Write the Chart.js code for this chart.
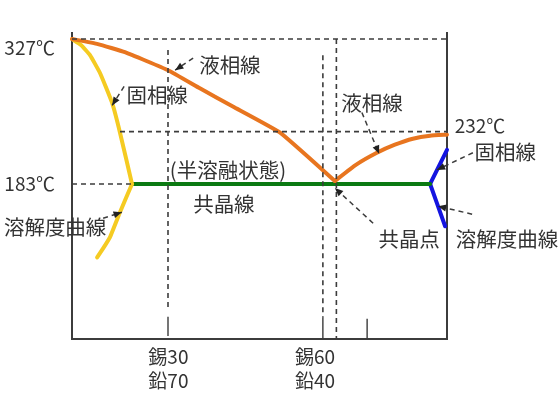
<!DOCTYPE html>
<html>
<head>
<meta charset="utf-8">
<script src="https://cdn.jsdelivr.net/npm/chart.js@4"></script>
<style>
  html, body { margin: 0; background: #fff; }
  canvas { display: block; }
</style>
</head>
<body>
<canvas id="chart" width="560" height="420"></canvas>
<script>
// composition axis runs 0-100 across the plot, temperature is in deg C
const liquidusLeftX = [0, 6.9, 14.1, 25.6, 34.1, 42.9, 55.5, 70.1];
const liquidusLeftY = [327, 322, 314, 296, 278, 260, 234, 186];
const liquidusRightX = [70.1, 75.7, 81.3, 86.1, 90.9, 95.5, 100];
const liquidusRightY = [186, 202, 214, 222, 228, 231, 232];
const solidusLeftX = [0, 2.4, 4.8, 7.5, 10.7, 12.8, 16];
const solidusLeftY = [327, 321, 311, 293, 263.5, 234, 183];
const solvusLeftX = [16, 12.8, 10.1, 8.3, 6.7];
const solvusLeftY = [183, 155, 130, 119, 110];
const eutecticX = [16, 95.5];
const eutecticY = [183, 183];
const solidusRightX = [100, 95.5];
const solidusRightY = [217, 183];
const solvusRightX = [95.5, 99.5];
const solvusRightY = [183, 141];

const xTickValues = [25.7, 64.8];
const xTickLabels = [['錫30', '鉛70'], ['錫60', '鉛40']];
const yTickValues = [318, 183];
const yTickLabels = ['327℃', '183℃'];

const FONT = '"Noto Sans CJK JP", sans-serif';
const LINE = '#3c3c3c';

const zip = (xs, ys) => xs.map((x, i) => ({ x: x, y: ys[i] }));

function curve(xs, ys, color, width) {
    return { data: zip(xs, ys), borderColor: color, borderWidth: width, tension: 0.12, pointRadius: 0, showLine: true, clip: false, borderCapStyle: 'round' };
}

function guide(xs, ys, dashed) {
    return { data: zip(xs, ys), borderColor: LINE, borderWidth: dashed ? 1.6 : 1.4, borderDash: dashed ? [5, 4] : [], pointRadius: 0, showLine: true, clip: false };
}

// text and leader arrows placed in axis units
const notes = [
    ['液相線', 42.1, 301],
    ['固相線', 22.7, 271],
    ['液相線', 80, 263],
    ['232℃', 108.8, 241],
    ['固相線', 115.5, 215],
    ['(半溶融状態)', 41.6, 197],
    ['共晶線', 40.5, 163],
    ['溶解度曲線', -4.5, 140],
    ['溶解度曲線', 116, 128],
    ['共晶点', 89.9, 128]
];

const arrows = [
    [32.3, 308, 27.5, 296],
    [13.9, 280, 10.7, 261],
    [8.3, 149, 13.3, 155],
    [77.3, 254, 81.9, 213],
    [106.9, 214, 97.3, 197],
    [80.3, 144, 70.1, 179],
    [106.7, 153, 97.6, 161]
];

const notesPlugin = {
    id: 'notes',
    afterDatasetsDraw(chart) {
        const c = chart.ctx, sx = chart.scales.x, sy = chart.scales.y;
        c.save();
        c.fillStyle = '#333';
        c.textAlign = 'center';
        c.textBaseline = 'middle';
        notes.forEach(n => {
            c.font = (n[0].includes('℃') ? '19px ' : '20.5px ') + FONT;
            c.fillText(n[0], sx.getPixelForValue(n[1]), sy.getPixelForValue(n[2]));
        });

        arrows.forEach(a => {
            const x1 = sx.getPixelForValue(a[0]), y1 = sy.getPixelForValue(a[1]);
            const x2 = sx.getPixelForValue(a[2]), y2 = sy.getPixelForValue(a[3]);
            const ang = Math.atan2(y2 - y1, x2 - x1);
            c.strokeStyle = LINE;
            c.fillStyle = '#222';
            c.lineWidth = 1.5;
            c.setLineDash([5, 4]);
            c.beginPath();
            c.moveTo(x1, y1);
            c.lineTo(x2, y2);
            c.stroke();
            c.setLineDash([]);
            c.beginPath();
            c.moveTo(x2, y2);
            c.lineTo(x2 - 9 * Math.cos(ang - 0.4), y2 - 9 * Math.sin(ang - 0.4));
            c.lineTo(x2 - 9 * Math.cos(ang + 0.4), y2 - 9 * Math.sin(ang + 0.4));
            c.closePath();
            c.fill();
        });
        c.restore();
    }
};

new Chart(document.getElementById('chart'), {
    type: 'scatter',
    data: {
        datasets: [
            guide([0, 100], [327, 327], true),
            guide([12.8, 100], [235, 235], true),
            guide([0, 16], [183, 183], true),
            guide([25.6, 25.6], [316, 60], true),
            guide([66.9, 66.9], [311, 50], true),
            guide([70.5, 70.5], [327, 29], true),
            guide([25.6, 25.6], [51, 32], false),
            guide([66.9, 66.9], [50, 29], false),
            guide([78.7, 78.7], [49, 29], false),
            curve(liquidusLeftX, liquidusLeftY, '#e8751f', 4),
            curve(liquidusRightX, liquidusRightY, '#e8751f', 4),
            curve(solidusLeftX, solidusLeftY, '#f5cb22', 4),
            curve(solvusLeftX, solvusLeftY, '#f5cb22', 4),
            curve(eutecticX, eutecticY, '#0b7a12', 4),
            curve(solidusRightX, solidusRightY, '#1414e0', 4),
            curve(solvusRightX, solvusRightY, '#1414e0', 4)
        ]
    },
    options: {
        responsive: false,
        animation: false,
        layout: { padding: { top: 33 } },
        plugins: { legend: { display: false }, tooltip: { enabled: false } },
        scales: {
            x: {
                min: 0,
                max: 100,
                grid: { display: false },
                border: { color: LINE, width: 2 },
                afterBuildTicks: s => { s.ticks = xTickValues.map(v => ({ value: v })); },
                afterFit: s => { s.height = 81; },
                ticks: {
                    autoSkip: false,
                    maxRotation: 0,
                    padding: -2,
                    color: '#333',
                    font: { family: FONT, size: 19, lineHeight: 1.26 },
                    callback: v => xTickLabels[xTickValues.indexOf(v)]
                }
            },
            y: {
                min: 29,
                max: 333,
                grid: { display: false },
                border: { color: LINE, width: 2 },
                afterBuildTicks: s => { s.ticks = yTickValues.map(v => ({ value: v })); },
                afterFit: s => { s.width = 72; },
                ticks: {
                    autoSkip: false,
                    padding: 9,
                    color: '#333',
                    font: { family: FONT, size: 19 },
                    callback: v => yTickLabels[yTickValues.indexOf(v)]
                }
            },
            right: {
                type: 'linear',
                position: 'right',
                min: 29,
                max: 333,
                grid: { display: false },
                border: { color: LINE, width: 2 },
                ticks: { display: false },
                afterFit: s => { s.width = 113; }
            }
        }
    },
    plugins: [notesPlugin]
});
</script>
</body>
</html>
